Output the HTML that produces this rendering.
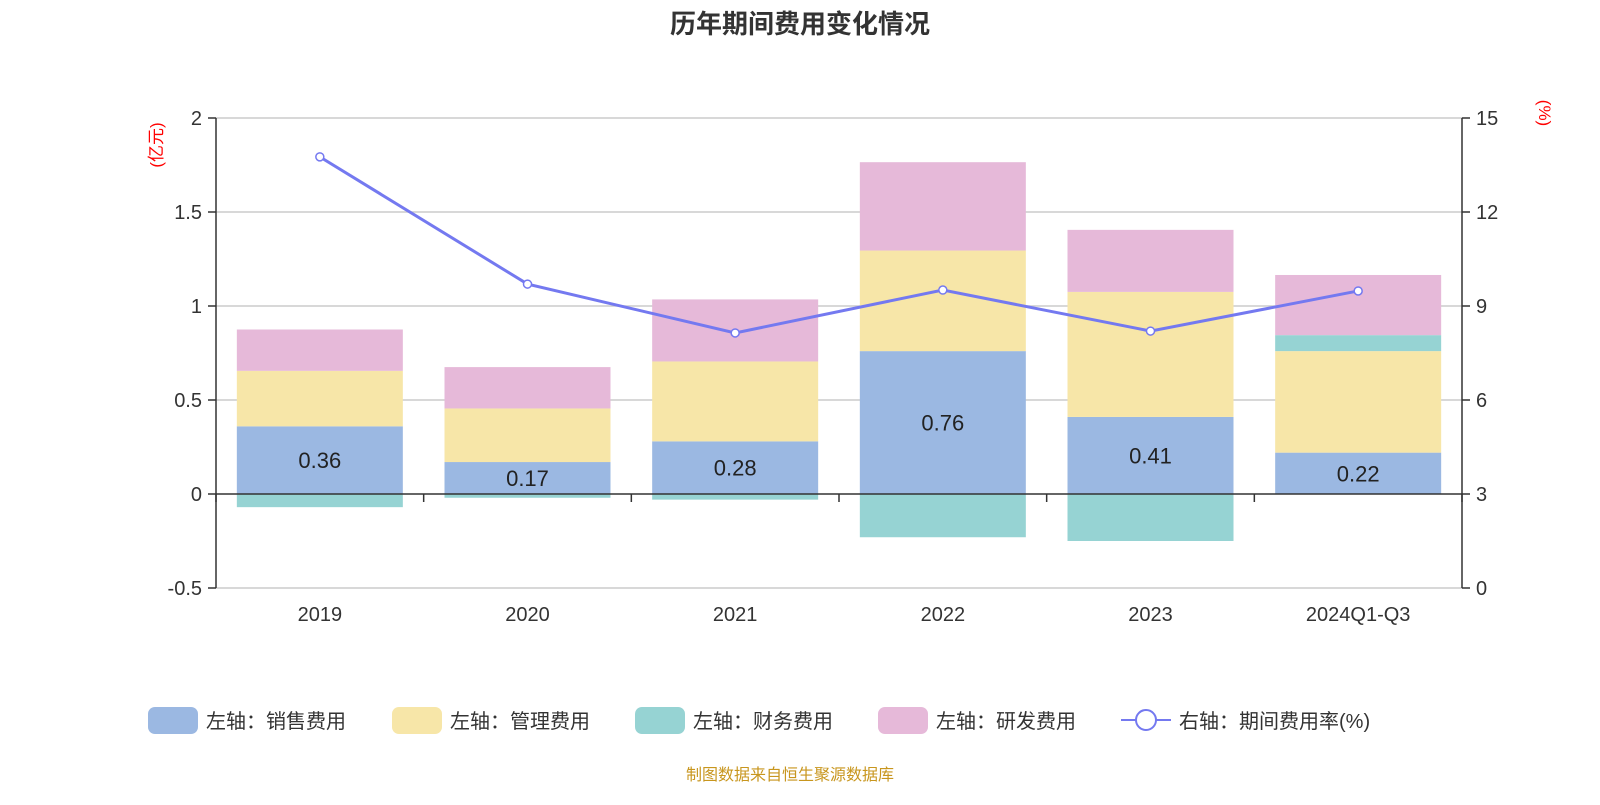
<!DOCTYPE html>
<html><head><meta charset="utf-8"><style>
html,body{margin:0;padding:0;background:#fff;}
svg text{font-family:"Liberation Sans","Noto Sans CJK SC",sans-serif;}
</style></head><body>
<svg id="chart" width="1600" height="800" xmlns="http://www.w3.org/2000/svg">
<text x="800" y="33" text-anchor="middle" font-size="26" font-weight="bold" fill="#333">历年期间费用变化情况</text>
<text transform="translate(162,145) rotate(-90)" text-anchor="middle" font-size="17" fill="#f00">(亿元)</text>
<text transform="translate(1539,113) rotate(90)" text-anchor="middle" font-size="17" fill="#f00">(%)</text>
<g id="plot"></g>
<text x="790" y="780" text-anchor="middle" font-size="16" fill="#c8961e">制图数据来自恒生聚源数据库</text>
</svg>
<script>
const categories=["2019","2020","2021","2022","2023","2024Q1-Q3"];
const sales=[0.36,0.17,0.28,0.76,0.41,0.22];
const mgmt=[0.295,0.285,0.425,0.535,0.665,0.54];
const finance=[-0.07,-0.02,-0.03,-0.23,-0.25,0.085];
const rnd=[0.22,0.22,0.33,0.47,0.33,0.32];
const rate=[13.76,9.70,8.14,9.51,8.20,9.48];
const leftTicks=[-0.5,0,0.5,1,1.5,2];
const rightTicks=[0,3,6,9,12,15];
const NS="http://www.w3.org/2000/svg";
const g=document.getElementById('plot');
const X0=216,X1=1462;
const yL=v=>494-v*188;
const yR=v=>588-v*470/15;
const bw=(X1-X0)/categories.length;
const xc=i=>X0+bw*(i+0.5);
function el(t,a,p){const e=document.createElementNS(NS,t);for(const k in a)e.setAttribute(k,a[k]);(p||g).appendChild(e);return e;}
leftTicks.forEach(v=>{
 const y=yL(v);
 if(v!==0){const l=el('line',{x1:X0,x2:X1,y1:y,y2:y,stroke:'#ccc','stroke-width':1.5});
 
 }
 const tk=el('line',{x1:X0-8,x2:X0,y1:y,y2:y,stroke:'#333','stroke-width':1.5});
 
 
 const t=el('text',{x:X0-14,y:y+7,'text-anchor':'end','font-size':20,fill:'#333'});t.textContent=v;
 
 
});
rightTicks.forEach(v=>{
 const y=yR(v);
 const tk=el('line',{x1:X1,x2:X1+8,y1:y,y2:y,stroke:'#333','stroke-width':1.5});
 
 
 const t=el('text',{x:X1+14,y:y+7,'font-size':20,fill:'#333'});t.textContent=v;
 
 
});
const colors={sales:'#9bb8e2',mgmt:'#f7e6a8',fin:'#96d3d3',rnd:'#e6b9d9'};
categories.forEach((c,i)=>{
 const x=xc(i)-83,w=166;
 let pos=0,neg=0;
 const segs=[[sales[i],colors.sales,'bar-sales'],[mgmt[i],colors.mgmt,'bar-management'],[finance[i],colors.fin,'bar-finance'],[rnd[i],colors.rnd,'bar-rnd']];
 segs.forEach(([v,col,name])=>{
  let a,b;
  if(v>=0){a=pos;b=pos+v;pos=b;}else{a=neg;b=neg+v;neg=b;}
  const y1=yL(Math.max(a,b)),y2=yL(Math.min(a,b));
  const r=el('rect',{x:x,y:y1,width:w,height:y2-y1,fill:col});
  
  
 });
 const t=el('text',{x:xc(i),y:yL(sales[i]/2)+8,'text-anchor':'middle','font-size':22,fill:'#222'});t.textContent=sales[i].toFixed(2);
 
 
 const xl=el('text',{x:xc(i),y:621,'text-anchor':'middle','font-size':20,fill:'#333'});xl.textContent=c;
 
 
});
[[X0,118,X0,588],[X1,118,X1,588],[X0,494,X1,494]].forEach(a=>{
 const l=el('line',{x1:a[0],y1:a[1],x2:a[2],y2:a[3],stroke:'#333','stroke-width':1.5});
 
 
});
for(let i=0;i<=categories.length;i++){
 const l=el('line',{x1:X0+bw*i,x2:X0+bw*i,y1:494,y2:502,stroke:'#333','stroke-width':1.5});
 
 
}
const pts=rate.map((v,i)=>xc(i)+','+yR(v)).join(' ');
const pl=el('polyline',{points:pts,fill:'none',stroke:'#7479f0','stroke-width':3});


rate.forEach((v,i)=>{
 const c=el('circle',{cx:xc(i),cy:yR(v),r:4,fill:'#fff',stroke:'#7479f0','stroke-width':1.5});
 
 
});
const leg=[['左轴：销售费用',colors.sales,148],['左轴：管理费用',colors.mgmt,392],['左轴：财务费用',colors.fin,635],['左轴：研发费用',colors.rnd,878]];
leg.forEach(([t,c,x])=>{
 const r=el('rect',{x:x,y:707,width:50,height:27,rx:7,fill:c});
 
 
 const tx=el('text',{x:x+58,y:728,'font-size':20,fill:'#333'});tx.textContent=t;
 
 
});
const ll=el('line',{x1:1121,x2:1171,y1:720,y2:720,stroke:'#7479f0','stroke-width':2});


const lc=el('circle',{cx:1146,cy:720,r:10,fill:'#fff',stroke:'#7479f0','stroke-width':2});


const lt=el('text',{x:1179,y:728,'font-size':20,fill:'#333'});lt.textContent='右轴：期间费用率(%)';


</script>
</body></html>
